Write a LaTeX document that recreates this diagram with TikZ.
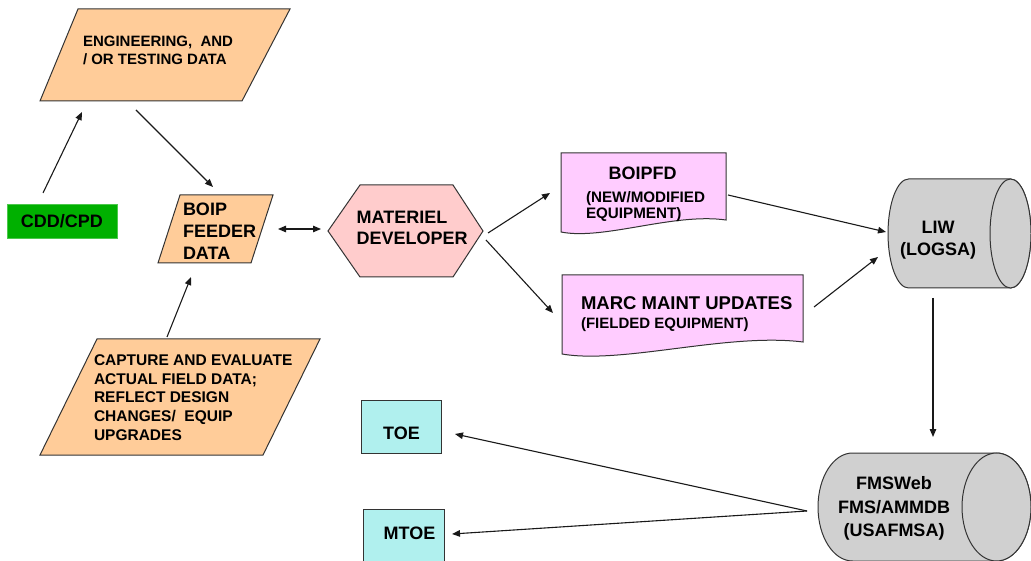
\documentclass[tikz,border=0pt]{standalone}
\usepackage{fontspec}
\setmainfont{Liberation Sans}
\usetikzlibrary{arrows.meta,calc}
\definecolor{peach}{HTML}{FFCC99}
\definecolor{hexpink}{HTML}{FFCCCC}
\definecolor{docpink}{HTML}{FFCCFF}
\definecolor{cylgray}{HTML}{D0D0D0}
\definecolor{cyanbox}{HTML}{B0F0EE}
\definecolor{cddgreen}{HTML}{00B000}
\definecolor{edge}{HTML}{333333}
\newcommand{\fs}[2]{\fontsize{#1}{#2}\selectfont\bfseries}
\tikzset{
  area/.style={draw=none,inner sep=0pt,outer sep=0pt},
  outline/.style={draw=edge,line width=1pt,line join=miter},
  txt/.style={inner sep=0pt,outer sep=0pt,text=black},
  arr/.style={draw=black!90,line width=1.1pt,-{Triangle[length=8pt,width=6.5pt]}},
  darr/.style={draw=black!90,line width=1.1pt,{Triangle[length=8pt,width=6.5pt]}-{Triangle[length=8pt,width=6.5pt]}},
}
\begin{document}
\begin{tikzpicture}[x=1pt,y=-1pt]
\useasboundingbox (0,0) rectangle (1031,561);
\clip (0,0) rectangle (1031,561);
% ---- placeholder nodes (geometry) ----
\node[area,minimum width=250pt,minimum height=92pt] (eng) at (165,55) {};
\node[area,minimum width=110pt,minimum height=34pt] (cdd) at (62,221) {};
\node[area,minimum width=115pt,minimum height=68pt] (feeder) at (215.5,229) {};
\node[area,minimum width=280pt,minimum height=116pt] (cap) at (180,397) {};
\node[area,minimum width=155pt,minimum height=92pt] (mat) at (405.5,231) {};
\node[area,minimum width=165pt,minimum height=79pt] (boipfd) at (643.5,192.5) {};
\node[area,minimum width=241pt,minimum height=79pt] (marc) at (682.5,314.5) {};
\node[area,minimum width=143pt,minimum height=109pt] (liw) at (959.5,233.5) {};
\node[area,minimum width=213pt,minimum height=108pt] (fms) at (924.5,507) {};
\node[area,minimum width=80pt,minimum height=53pt] (toe) at (401,426.5) {};
\node[area,minimum width=81pt,minimum height=56pt] (mtoe) at (403.5,537) {};
% ---- shapes ----
\begin{scope}[shift={(eng.center)}]
\draw[outline,fill=peach] (-125,46) -- (77,46) -- (125,-46) -- (-87,-46) -- cycle;
\end{scope}
\fill[cddgreen] (cdd.south west) rectangle (cdd.north east);
\draw[cddgreen!70!white,line width=0.8pt] (cdd.south west) rectangle (cdd.north east);
\begin{scope}[shift={(feeder.center)}]
\draw[outline,fill=peach] (-57.5,34) -- (35.5,34) -- (57.5,-34) -- (-35.5,-34) -- cycle;
\end{scope}
\begin{scope}[shift={(cap.center)}]
\draw[outline,fill=peach] (-140,58) -- (83,58) -- (140,-58) -- (-83,-58) -- cycle;
\end{scope}
\begin{scope}[shift={(mat.center)}]
\draw[outline,fill=hexpink] (-77.5,0) -- (-45.5,-46) -- (47.5,-46) -- (77.5,0) -- (47.5,46) -- (-45.5,46) -- cycle;
\end{scope}
\begin{scope}[shift={(boipfd.center)}]
\draw[outline,fill=docpink] (-82.5,39.5) -- (-82.5,-39.5) -- (82.5,-39.5) -- (82.5,27.5)
  .. controls (30,20) and (-40,48) .. (-82.5,39.5) -- cycle;
\end{scope}
\begin{scope}[shift={(marc.center)}]
\draw[outline,fill=docpink] (-120.5,39.5) -- (-120.5,-39.5) -- (120.5,-39.5) -- (120.5,27.5)
  .. controls (45,18) and (-60,50) .. (-120.5,39.5) -- cycle;
\end{scope}
\begin{scope}[shift={(liw.center)}]
\draw[outline,fill=cylgray] (-51,-54.5) -- (51,-54.5)
  arc[start angle=90,end angle=-90,x radius=20.5pt,y radius=54.5pt]
  -- (-51,54.5)
  arc[start angle=270,end angle=90,x radius=20.5pt,y radius=54.5pt] -- cycle;
\draw[outline,fill=cylgray] (51,0) ellipse [x radius=20.5pt,y radius=54.5pt];
\end{scope}
\begin{scope}[shift={(fms.center)}]
\draw[outline,fill=cylgray] (-72,-54) -- (72,-54)
  arc[start angle=90,end angle=-90,x radius=34.5pt,y radius=54pt]
  -- (-72,54)
  arc[start angle=270,end angle=90,x radius=34.5pt,y radius=54pt] -- cycle;
\draw[outline,fill=cylgray] (72,0) ellipse [x radius=34.5pt,y radius=54pt];
\end{scope}
\draw[outline,fill=cyanbox] (toe.south west) rectangle (toe.north east);
\draw[outline,fill=cyanbox] (mtoe.south west) rectangle (mtoe.north east);
% ---- texts ----
\node[txt,anchor=north west,align=left,font=\fs{15}{18.6}] (engt) at (83,35.6) {ENGINEERING,\ \ AND\\/ OR TESTING DATA};
\node[txt,font=\fs{18}{22}] (cddt) at (cdd.center) {CDD/CPD};
\node[txt,anchor=north west,align=left,font=\fs{18}{22.3}] (feedert) at (183,202.6) {BOIP\\FEEDER\\DATA};
\node[txt,anchor=north west,align=left,font=\fs{15.5}{18.75}] (capt) at (94,354.5) {CAPTURE AND EVALUATE\\ACTUAL FIELD DATA;\\REFLECT DESIGN\\CHANGES/\ \ EQUIP\\UPGRADES};
\node[txt,anchor=north west,align=left,font=\fs{18}{20.6}] (matt) at (356.7,211.2) {MATERIEL\\DEVELOPER};
\node[txt,font=\fs{18}{22}] (boipfdt) at (642.5,173) {BOIPFD};
\node[txt,anchor=north west,align=left,font=\fs{15.2}{16.2}] (boipfds) at (586,191.3) {(NEW/MODIFIED\\EQUIPMENT)};
\node[txt,anchor=north west,font=\fs{18.5}{22}] (marct) at (581,296.3) {MARC MAINT UPDATES};
\node[txt,anchor=north west,font=\fs{15}{18}] (marcs) at (581,317.6) {(FIELDED EQUIPMENT)};
\node[txt,anchor=north,align=center,font=\fs{18}{22}] (liwt) at (938,221.6) {LIW\\(LOGSA)};
\node[txt,anchor=north,align=center,font=\fs{18}{23.5}] (fmst) at (894,476.5) {FMSWeb\\FMS/AMMDB\\(USAFMSA)};
\node[txt,font=\fs{18}{22}] (toet) at (401.5,433) {TOE};
\node[txt,font=\fs{18}{22}] (mtoet) at (409.5,533) {MTOE};
% ---- connectors ----
\draw[arr] ($(cdd.center)+(-19,-28)$) -- ($(eng.center)+(-83,57)$);
\draw[arr] ($(eng.center)+(-29,55)$) -- ($(feeder.center)+(-2.5,-42)$);
\draw[arr] ($(cap.center)+(-13,-60)$) -- ($(feeder.center)+(-24.5,48)$);
\draw[darr] ($(feeder.center)+(62.5,0)$) -- ($(mat.center)+(-84.5,-2)$);
\draw[arr] ($(mat.center)+(82.5,2)$) -- ($(boipfd.center)+(-93.5,0.5)$);
\draw[arr] ($(mat.center)+(80.5,9)$) -- ($(marc.center)+(-129.5,-1.5)$);
\draw[arr] ($(boipfd.center)+(84.5,2.5)$) -- ($(liw.center)+(-73.5,-1.5)$);
\draw[arr] ($(marc.center)+(131.5,-7.5)$) -- ($(liw.center)+(-81.5,23.5)$);
\draw[arr] ($(liw.center)+(-26.5,64.5)$) -- ($(fms.center)+(8.5,-70)$);
\coordinate (fmsout) at ($(fms.center)+(-117.5,4)$);
\draw[arr] (fmsout) -- ($(toe.center)+(54,7.5)$);
\draw[arr] (fmsout) -- ($(mtoe.center)+(48.5,-3)$);
\end{tikzpicture}
\end{document}
